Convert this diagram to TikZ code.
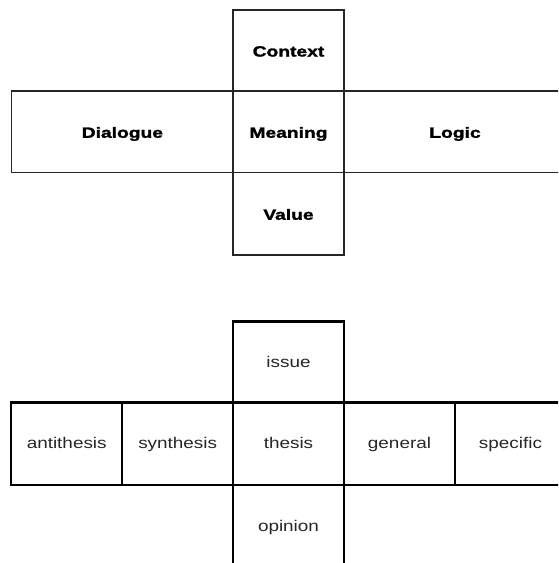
\documentclass[tikz,border=0pt]{standalone}
\usepackage{fontspec}
\newfontfamily\topfont[FakeStretch=1.3,FakeBold=1.8]{Liberation Sans Bold}
\newfontfamily\botfont[FakeStretch=1.22]{Liberation Sans}
\begin{document}
\begin{tikzpicture}[x=1pt,y=-1pt,
  topcell/.style={draw=black!85, line width=1.4pt, inner sep=0pt, outer sep=0pt,
    text height=12pt, text depth=0pt,
    font=\topfont\fontsize{14.8}{16}\selectfont, text=black},
  botcell/.style={draw=black, line width=2.2pt, inner sep=0pt, outer sep=0pt,
    minimum width=111pt, minimum height=82.5pt, text height=11.5pt, text depth=1pt,
    font=\botfont\fontsize{15.5}{17}\selectfont, text=black!85},
  botmid/.style={botcell, line width=2.9pt}]
\useasboundingbox (0,0) rectangle (558,563);
\clip (0,0) rectangle (558,563);
% top diagram
\node[topcell, minimum width=221.3pt, minimum height=81.5pt] (dialogue) at (122.4,131.75) {Dialogue};
\node[topcell, minimum width=222pt, minimum height=81.5pt] (logic) at (455,131.75) {Logic};
\node[topcell, minimum width=111pt, minimum height=81pt] (context) at (288.5,50.5) {Context};
\node[topcell, minimum width=111pt, minimum height=82.5pt] (value) at (288.5,213.75) {Value};
\node[topcell, minimum width=111pt, minimum height=81.5pt] (meaning) at (288.5,131.75) {Meaning};
% bottom diagram
\node[botcell] (antithesis) at (66.7,443.7) {antithesis};
\node[botcell] (synthesis) at (177.7,443.7) {synthesis};
\node[botcell] (general) at (399.5,443.7) {general};
\node[botcell] (specific) at (510.5,443.7) {specific};
\draw[line width=2.9pt] (specific.north west) -- (specific.south west);
\node[botmid, minimum height=80.5pt] (issue) at (288.5,362) {issue};
\node[botmid] (opinion) at (288.5,526.2) {opinion};
\node[botmid] (thesis) at (288.5,443.7) {thesis};
\end{tikzpicture}
\end{document}
